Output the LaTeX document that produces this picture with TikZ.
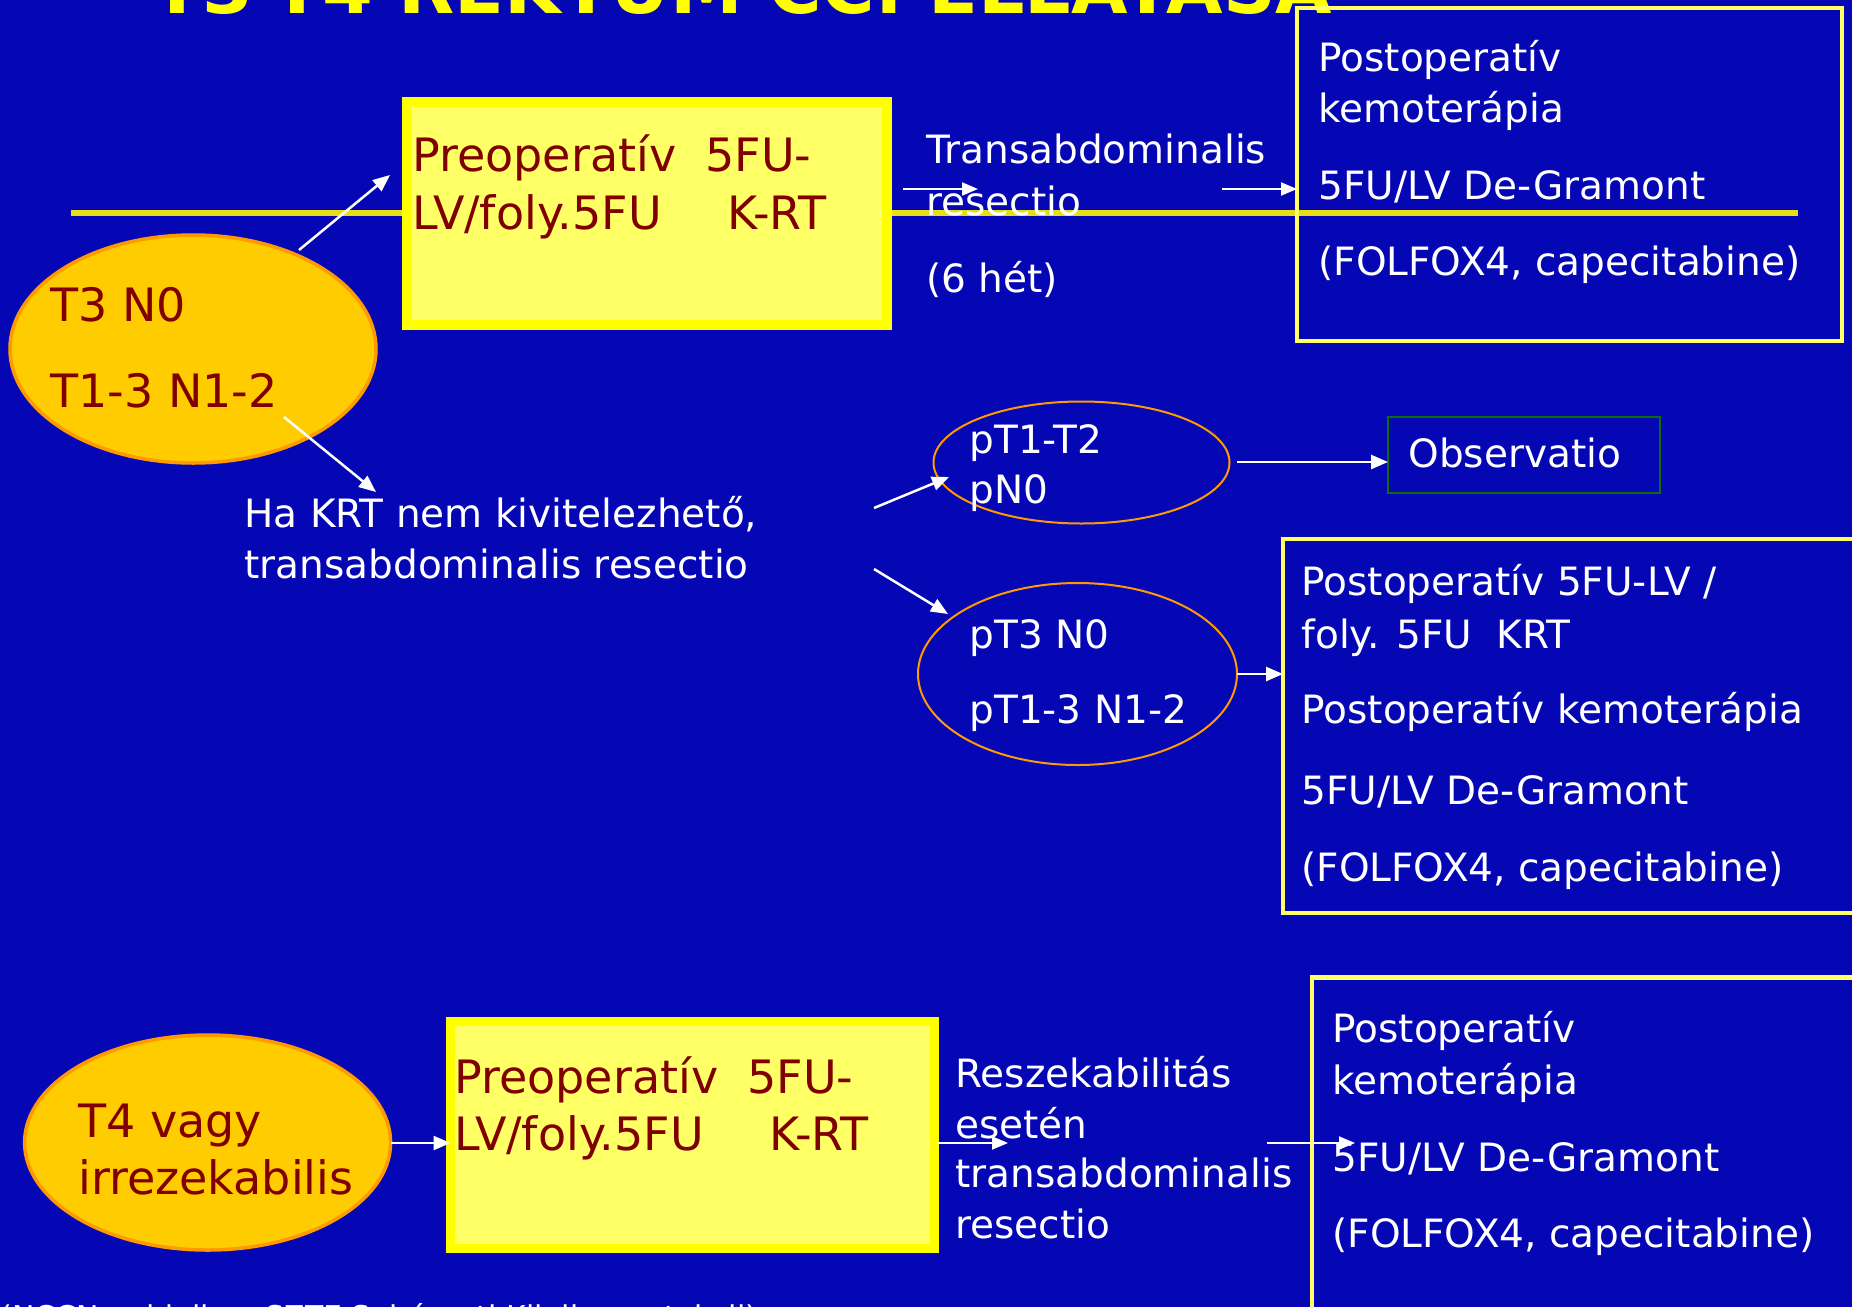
\documentclass[tikz,border=0pt]{standalone}
\usepackage{fontspec}
\setmainfont{DejaVu Sans}
\usetikzlibrary{shapes.geometric,arrows.meta}

\definecolor{slidebg}{RGB}{5,7,181}
\definecolor{titleyellow}{RGB}{255,255,0}
\definecolor{axisyellow}{RGB}{232,222,20}
\definecolor{boxyellow}{RGB}{255,255,0}
\definecolor{boxfill}{RGB}{255,255,102}
\definecolor{paleyellow}{RGB}{255,255,102}
\definecolor{darkred}{RGB}{128,0,0}
\definecolor{ovalfill}{RGB}{255,204,0}
\definecolor{ovalline}{RGB}{255,153,0}
\definecolor{obsgreen}{RGB}{10,110,10}

\tikzset{
  wt/.style={text=white, font=\fontsize{19.5}{23}\selectfont, inner sep=0pt, anchor=base west},
  rd/.style={text=darkred, font=\fontsize{23}{27}\selectfont, inner sep=0pt, anchor=base west},
  thickbox/.style={draw=boxyellow, fill=boxfill, inner sep=0pt, outer sep=0pt},
  thinbox/.style={draw=paleyellow, line width=2.2pt, inner sep=0pt, outer sep=0pt},
  solidoval/.style={ellipse, draw=ovalline, fill=ovalfill, line width=1.75pt, inner sep=0pt, outer sep=0pt},
  openoval/.style={ellipse, draw=ovalline, line width=1pt, inner sep=0pt, outer sep=0pt},
  flow/.style={draw=white, line width=1.25pt, -{Triangle[length=8.5pt,width=7pt]}},
  thinflow/.style={draw=white, line width=1pt, -{Triangle[length=8pt,width=6.5pt]}}
}

\begin{document}
\begin{tikzpicture}[x=0.5pt,y=-0.5pt]
\useasboundingbox (0,0) rectangle (1852,1307);
\fill[slidebg] (0,0) rectangle (1852,1307);

\begin{scope}
\clip (0,0) rectangle (1852,1307);

% heading, running off the top edge
\node[anchor=base west, inner sep=0pt, text=titleyellow,
      font=\bfseries\fontsize{36.5}{42}\selectfont] (title) at (152,13)
  {T3-T4 REKTUM CC. ELLÁTÁSA};

% time axis
\coordinate (axisL) at (71,213);
\coordinate (axisR) at (1798,213);
\draw[axisyellow, line width=3pt] (axisL) -- (axisR);

% ---------- upper row ----------
\node[thickbox, line width=5pt, minimum width=240pt, minimum height=111.5pt] (preA) at (647,213.5) {};
\node[rd] (preA1) at (412,171) {Preoperatív\ \ 5FU-};
\node[rd] (preA2) at (412,229) {LV/foly.5FU\hspace{33pt}K-RT};

\node[solidoval, minimum width=183pt, minimum height=114pt] (stage1) at (193,349) {};
\node[rd] (stage1a) at (50,321) {T3 N0};
\node[rd] (stage1b) at (50,407) {T1-3 N1-2};

\node[wt] (resA1) at (926,163) {Transabdominalis};
\node[wt] (resA2) at (926,215) {resectio};
\node[wt] (resA3) at (926,292) {(6 hét)};

\node[thinbox, minimum width=272.5pt, minimum height=166.5pt] (postA) at (1569.5,174.5) {};
\node[wt] (postA1) at (1318,71) {Postoperatív};
\node[wt] (postA2) at (1318,122) {kemoterápia};
\node[wt] (postA3) at (1318,199) {5FU/LV De-Gramont};
\node[wt] (postA4) at (1318,275) {(FOLFOX4, capecitabine)};

% ---------- middle row ----------
\node[wt] (noKRT1) at (244,527) {Ha KRT nem kivitelezhető,};
\node[wt] (noKRT2) at (244,578) {transabdominalis resectio};

\node[openoval, minimum width=148pt, minimum height=61pt] (pT12) at (1081.5,462.5) {};
\node[wt] (pT12a) at (969,453) {pT1-T2};
\node[wt] (pT12b) at (969,503) {pN0};

\node[draw=obsgreen, line width=1pt, minimum width=136pt, minimum height=38pt, inner sep=0pt, outer sep=0pt] (obs) at (1524,455) {};
\node[wt] (obsText) at (1408,467) {Observatio};

\node[openoval, minimum width=159.5pt, minimum height=91pt] (pT3) at (1077.5,674) {};
\node[wt] (pT3a) at (969,648) {pT3 N0};
\node[wt] (pT3b) at (969,723) {pT1-3 N1-2};

\node[thinbox, minimum width=308.5pt, minimum height=187pt] (postB) at (1591.5,726) {};
\node[wt] (postB1) at (1301,595) {Postoperatív 5FU-LV /};
\node[wt] (postB2) at (1301,648) {foly. 5FU\ \ KRT};
\node[wt] (postB3) at (1301,723) {Postoperatív kemoterápia};
\node[wt] (postB4) at (1301,804) {5FU/LV De-Gramont};
\node[wt] (postB5) at (1301,881) {(FOLFOX4, capecitabine)};

% ---------- lower row ----------
\node[solidoval, minimum width=183pt, minimum height=107.5pt] (stage2) at (207.6,1142.5) {};
\node[rd] (stage2a) at (78,1137) {T4 vagy};
\node[rd] (stage2b) at (78,1194) {irrezekabilis};

\node[thickbox, line width=4.5pt, minimum width=241.75pt, minimum height=113.5pt] (preB) at (692.25,1135) {};
\node[rd] (preB1) at (454,1093) {Preoperatív\ \ 5FU-};
\node[rd] (preB2) at (454,1150) {LV/foly.5FU\hspace{33pt}K-RT};

\node[wt] (resB1) at (955,1087) {Reszekabilitás};
\node[wt] (resB2) at (955,1138) {esetén};
\node[wt] (resB3) at (955,1187) {transabdominalis};
\node[wt] (resB4) at (955,1238) {resectio};

\node[thinbox, minimum width=294pt, minimum height=191.25pt] (postC) at (1606,1168.75) {};
\node[wt] (postC1) at (1332,1042) {Postoperatív};
\node[wt] (postC2) at (1332,1094) {kemoterápia};
\node[wt] (postC3) at (1332,1171) {5FU/LV De-Gramont};
\node[wt] (postC4) at (1332,1247) {(FOLFOX4, capecitabine)};

% source line, running off the bottom edge
\node[text=white, anchor=base west, inner sep=0pt, font=\fontsize{15}{18}\selectfont] (source) at (0,1327)
  {(NCCN guideline, SZTE Sebészeti Klinika protokoll)};

% ---------- connectors ----------
\coordinate (a1s) at (299,250);  \coordinate (a1e) at (390,175);
\coordinate (a2s) at (284,417);  \coordinate (a2e) at (376,492);
\coordinate (a3s) at (903,189);  \coordinate (a3e) at (978,189);
\coordinate (a4s) at (1222,189);
\coordinate (a5s) at (874,508);  \coordinate (a5e) at (949,477);
\coordinate (a6s) at (1237,462);
\coordinate (a7s) at (874,569);  \coordinate (a7e) at (948,614);
\coordinate (a8s) at (1237,674);
\coordinate (a9s) at (391,1143);
\coordinate (a10s) at (938,1143); \coordinate (a10e) at (1008,1143);
\coordinate (a11s) at (1267,1143); \coordinate (a11e) at (1355,1143);

\draw[flow] (a1s) -- (a1e);
\draw[flow] (a2s) -- (a2e);
\draw[thinflow] (a3s) -- (a3e);
\draw[thinflow] (a4s) -- (a4s -| postA.west);
\draw[flow] (a5s) -- (a5e);
\draw[flow] (a6s) -- (a6s -| obs.west);
\draw[flow] (a7s) -- (a7e);
\draw[flow] (a8s) -- (a8s -| postB.west);
\draw[flow] (a9s) -- (a9s -| preB.west);
\draw[thinflow] (a10s) -- (a10e);
\draw[thinflow] (a11s) -- (a11e);
\end{scope}
\end{tikzpicture}
\end{document}
